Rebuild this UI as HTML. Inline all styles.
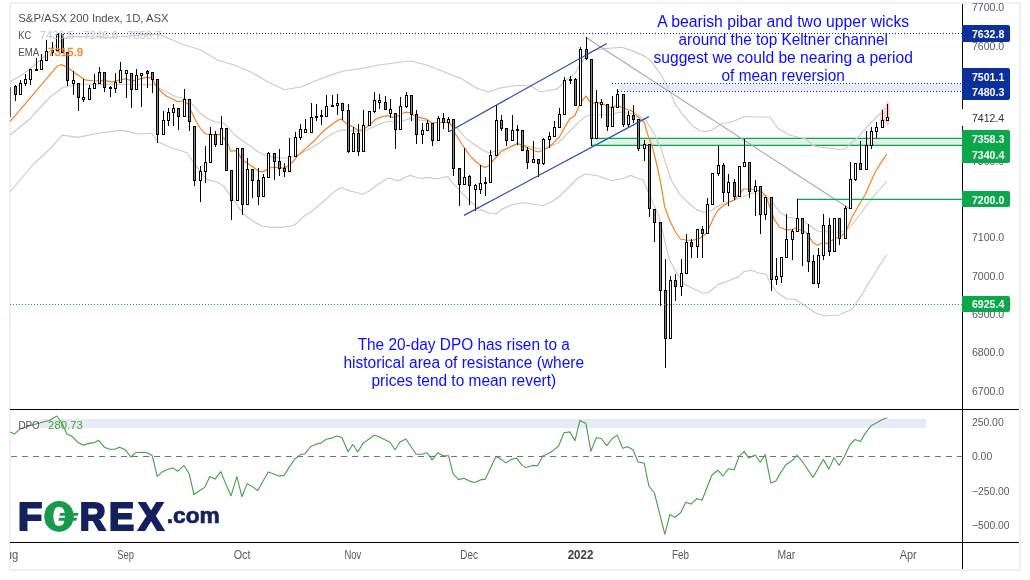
<!DOCTYPE html>
<html lang="en"><head><meta charset="utf-8"><title>S&amp;P/ASX 200 Index, 1D, ASX</title>
<style>html,body{margin:0;padding:0;background:#fff;overflow:hidden}svg{display:block;will-change:transform;opacity:0.9999}text{font-family:'Liberation Sans', Arial, sans-serif}</style>
</head><body>
<svg width="1030" height="580" viewBox="0 0 1030 580">
<rect x="0" y="0" width="1030" height="580" fill="#ffffff"/>
<rect x="10" y="3" width="1010" height="567" fill="none" stroke="#eef0f5" stroke-width="2"/>
<text x="971.9" y="10.8" font-size="11" fill="#555a64" text-anchor="start" font-weight="normal" textLength="32.3" lengthAdjust="spacingAndGlyphs" >7700.0</text>
<text x="971.9" y="49.9" font-size="11" fill="#555a64" text-anchor="start" font-weight="normal" textLength="32.3" lengthAdjust="spacingAndGlyphs" >7600.0</text>
<text x="971.9" y="164.8" font-size="11" fill="#555a64" text-anchor="start" font-weight="normal" textLength="32.3" lengthAdjust="spacingAndGlyphs" >7300.0</text>
<text x="971.9" y="241.2" font-size="11" fill="#555a64" text-anchor="start" font-weight="normal" textLength="32.3" lengthAdjust="spacingAndGlyphs" >7100.0</text>
<text x="971.9" y="279.8" font-size="11" fill="#555a64" text-anchor="start" font-weight="normal" textLength="32.3" lengthAdjust="spacingAndGlyphs" >7000.0</text>
<text x="971.9" y="318.1" font-size="11" fill="#555a64" text-anchor="start" font-weight="normal" textLength="32.3" lengthAdjust="spacingAndGlyphs" >6900.0</text>
<text x="971.9" y="355.7" font-size="11" fill="#555a64" text-anchor="start" font-weight="normal" textLength="32.3" lengthAdjust="spacingAndGlyphs" >6800.0</text>
<text x="971.9" y="394.5" font-size="11" fill="#555a64" text-anchor="start" font-weight="normal" textLength="32.3" lengthAdjust="spacingAndGlyphs" >6700.0</text>
<text x="971.9" y="426.09999999999997" font-size="11" fill="#555a64" text-anchor="start" font-weight="normal" textLength="31.8" lengthAdjust="spacingAndGlyphs" >250.00</text>
<text x="971.9" y="460.2" font-size="11" fill="#555a64" text-anchor="start" font-weight="normal" textLength="20.3" lengthAdjust="spacingAndGlyphs" >0.00</text>
<text x="971.9" y="494.9" font-size="11" fill="#555a64" text-anchor="start" font-weight="normal" textLength="37.6" lengthAdjust="spacingAndGlyphs" >−250.00</text>
<text x="971.9" y="528.9" font-size="11" fill="#555a64" text-anchor="start" font-weight="normal" textLength="37.6" lengthAdjust="spacingAndGlyphs" >−500.00</text>
<rect x="619" y="84" width="343" height="7" fill="#e9ebf6"/>
<rect x="40" y="419" width="886" height="9" fill="#e8eaf6"/>
<rect x="592" y="138" width="370" height="8" fill="#e0f2e5"/>
<line x1="592" y1="138.4" x2="962" y2="138.45" stroke="#0aa84a" stroke-width="1.25"/>
<line x1="592" y1="145.4" x2="962" y2="145.45" stroke="#0aa84a" stroke-width="1.25"/>
<polyline points="10.0,81.5 21.7,75.1 35.8,64.0 45.2,55.8 55.0,46.0 62.0,39.5 68.0,37.0 75.6,36.4 90.0,36.8 109.6,37.3 130.0,36.0 145.0,34.3 160.0,34.6 168.6,38.4 174.0,40.5 182.0,44.2 188.0,46.0 201.0,50.0 217.5,60.0 234.0,65.0 251.0,72.0 268.0,82.0 284.5,89.7 301.0,87.0 318.0,80.0 334.7,73.6 344.0,71.0 360.7,68.6 377.5,65.3 394.0,63.0 411.0,61.0 427.7,65.3 444.4,72.0 461.0,78.6 478.0,88.7 488.0,92.0 501.3,87.7 518.0,85.3 531.4,86.3 540.0,91.8 544.8,91.2 557.6,88.9 563.4,82.4 575.2,73.0 580.4,63.7 590.4,51.4 601.0,49.0 622.0,47.3 633.8,51.4 645.5,56.6 651.3,61.3 657.2,69.5 660.0,73.0 664.0,80.0 670.0,91.7 674.7,103.4 683.0,115.0 692.3,125.7 700.5,131.0 706.3,131.6 712.2,129.8 715.0,128.0 721.5,123.8 731.5,122.0 745.0,116.5 758.3,117.0 770.0,117.0 778.4,128.8 789.5,135.0 797.7,137.0 806.0,139.0 813.0,145.5 820.0,147.3 833.0,148.5 840.0,149.5 845.3,149.0 849.3,144.4 857.6,137.8 869.3,124.3 879.8,113.7 887.5,106.0" fill="none" stroke="#cbcbcb" stroke-width="1.15" stroke-linejoin="round" />
<polyline points="10.0,135.3 30.0,118.7 50.0,97.0 62.2,88.0 68.6,85.9 83.7,84.0 100.0,84.5 117.0,84.3 126.0,84.6 137.7,84.8 149.4,84.4 155.3,85.2 158.8,88.1 165.8,91.6 172.9,95.2 177.6,97.3 182.2,97.7 189.3,100.4 192.8,105.1 198.7,111.6 203.3,115.7 208.0,118.8 215.2,122.0 223.4,123.2 229.3,128.4 235.2,135.5 243.4,141.3 251.6,147.2 258.6,151.9 265.6,155.4 272.7,157.1 282.0,158.3 289.0,157.7 296.0,156.0 303.0,152.2 311.3,148.0 320.0,142.5 324.0,139.0 333.4,133.0 341.6,130.0 347.5,130.1 355.0,131.3 364.4,131.3 372.6,127.2 382.0,123.0 390.0,121.0 394.8,122.5 401.9,121.3 410.0,118.4 417.0,119.6 425.3,120.7 432.3,123.0 441.7,122.7 448.8,122.5 454.6,126.0 460.5,131.9 467.0,139.4 475.2,145.2 484.5,151.0 489.2,152.9 496.2,151.0 505.6,148.8 517.3,144.6 524.4,145.2 533.8,147.6 540.8,148.8 547.8,147.6 558.0,143.0 565.0,136.0 572.0,129.0 579.0,121.9 586.0,116.2 592.0,114.8 612.6,114.6 618.4,112.2 625.5,112.8 633.7,114.0 639.5,115.7 645.4,119.8 650.0,126.9 654.8,135.0 659.5,146.0 660.5,146.7 665.0,160.8 671.0,179.5 679.0,193.6 688.6,203.2 696.8,209.6 703.8,212.6 712.0,210.2 719.0,205.5 728.4,202.0 740.0,198.0 747.0,195.0 752.0,193.0 760.0,194.0 768.4,198.2 774.3,205.2 780.0,212.3 787.0,217.0 796.6,218.7 803.6,221.0 810.6,226.3 817.7,231.0 827.0,232.0 838.8,232.0 845.8,231.0 850.5,226.3 857.5,218.0 865.0,207.5 872.0,198.5 880.0,189.0 887.0,180.8" fill="none" stroke="#cbcbcb" stroke-width="1.15" stroke-linejoin="round" />
<polyline points="10.0,192.0 33.5,164.0 51.0,148.0 62.2,135.1 78.0,137.4 97.9,133.3 120.2,130.4 126.0,131.1 137.7,134.0 151.8,133.2 157.6,141.6 170.5,147.5 187.0,152.8 191.6,159.6 196.3,165.9 201.0,172.9 208.0,179.9 217.4,182.3 223.3,185.8 229.5,194.4 236.5,204.2 242.8,213.2 248.4,218.0 255.5,222.7 262.5,226.2 271.9,227.4 281.2,227.4 290.6,226.2 295.3,224.5 304.7,215.7 311.7,211.6 318.8,205.2 325.8,199.3 332.8,192.9 338.7,188.8 342.3,187.7 348.2,190.4 355.2,192.2 362.9,194.3 369.3,191.0 378.7,184.0 386.9,178.7 390.4,178.1 396.2,180.7 401.0,179.9 405.6,177.0 410.3,175.4 416.2,177.5 422.0,178.4 426.7,177.3 433.8,178.4 438.4,178.7 443.1,177.5 447.8,176.4 452.5,182.8 458.8,189.4 469.3,200.8 480.4,209.6 489.2,213.0 496.3,213.7 501.0,209.6 510.3,205.5 522.0,202.5 533.8,204.3 543.0,205.5 551.3,202.0 560.0,196.0 570.0,186.0 578.0,178.0 585.0,174.0 598.0,175.7 611.7,180.7 625.0,178.0 630.0,175.4 643.0,180.0 651.0,198.3 659.3,217.3 665.0,241.9 669.8,260.5 676.9,273.4 685.0,284.6 694.5,289.3 702.7,293.0 707.3,293.0 712.0,289.8 717.9,284.6 729.6,280.5 739.0,276.4 743.7,271.7 750.9,270.2 759.0,273.0 766.0,274.3 770.8,283.7 777.8,293.0 787.2,299.0 795.4,299.5 803.6,304.8 815.3,313.0 825.2,316.0 838.6,315.0 852.0,309.5 862.0,294.4 872.0,277.7 880.4,264.3 887.0,254.5" fill="none" stroke="#cbcbcb" stroke-width="1.15" stroke-linejoin="round" />
<line x1="585.7" y1="37.3" x2="850" y2="209" stroke="#a6a8b8" stroke-width="1.1"/>
<polyline points="10.0,121.6 30.0,98.2 45.2,80.4 56.9,66.3 61.6,64.6 67.4,67.5 75.6,73.4 85.0,79.8 94.4,81.0 103.8,80.4 112.0,81.8 120.2,79.8 126.0,78.7 131.9,81.1 140.0,78.8 146.0,77.3 151.2,77.6 155.3,84.6 160.0,90.5 165.8,95.7 172.9,99.3 177.6,101.6 183.4,101.0 188.0,104.0 191.6,112.0 196.3,121.7 201.0,129.3 205.7,134.0 212.7,134.6 219.8,134.4 224.4,138.7 228.4,144.9 230.8,151.2 235.0,150.6 237.3,151.0 242.0,159.6 247.9,163.4 253.7,167.5 258.4,171.0 262.5,171.9 266.6,169.9 271.3,167.5 277.0,167.3 283.0,168.1 287.7,166.4 292.4,162.3 298.3,155.2 306.5,147.6 315.2,140.0 317.0,137.7 325.2,129.5 332.2,124.3 338.0,120.2 341.6,119.2 346.3,123.7 349.8,125.4 353.3,127.0 358.0,130.6 364.4,129.0 370.2,124.3 376.0,119.0 382.0,116.6 389.0,115.7 393.7,117.6 397.2,116.6 401.9,113.7 405.4,112.2 410.0,112.5 413.6,115.2 418.3,117.2 426.5,119.2 432.3,123.1 437.0,122.3 444.0,122.3 448.8,122.5 452.3,126.6 455.2,133.5 460.0,141.0 464.6,148.2 470.5,156.4 475.2,161.0 480.4,165.2 485.0,167.5 489.2,165.2 492.7,161.0 496.3,157.0 501.0,151.7 506.8,148.8 512.7,145.5 517.3,143.5 522.0,144.6 526.7,147.6 532.6,150.0 537.9,152.0 542.0,150.5 547.8,147.6 552.5,144.0 557.2,138.8 559.0,137.7 565.0,126.6 569.7,119.0 575.0,115.4 579.0,106.0 582.6,100.2 586.0,95.9 589.6,101.4 593.0,103.0 597.8,102.6 602.5,103.6 607.9,107.3 612.6,107.2 617.3,105.2 622.0,107.5 626.6,109.3 632.5,111.4 637.2,116.3 644.2,122.2 647.7,134.5 652.3,146.7 657.0,165.5 660.5,181.9 664.6,206.7 669.8,220.8 675.7,232.5 680.4,239.0 686.2,240.0 692.0,240.5 700.3,238.0 706.2,233.7 709.7,226.6 714.4,216.0 717.9,210.2 723.8,205.5 728.4,202.4 734.3,200.0 739.6,193.6 743.7,189.0 750.9,189.0 756.7,190.0 762.6,192.6 766.0,196.0 769.6,206.4 774.3,219.3 780.0,227.5 786.0,229.8 791.9,229.8 795.4,228.0 800.0,229.8 806.0,232.2 809.5,236.9 813.0,242.7 817.7,245.3 822.3,242.7 827.0,243.7 831.7,240.4 836.4,238.0 841.0,236.3 844.6,233.4 848.0,226.3 852.8,215.8 858.7,205.2 865.0,195.0 869.9,184.0 875.1,172.3 881.0,162.6 886.9,154.1" fill="none" stroke="#f58220" stroke-width="1.2" stroke-linejoin="round" />
<line x1="797" y1="199.4" x2="962" y2="199.4" stroke="#0aa84a" stroke-width="1.2"/>
<ellipse cx="882.5" cy="118" rx="2.7" ry="10.5" fill="#fbd3d5"/>
<ellipse cx="887.5" cy="113" rx="2.7" ry="12.3" fill="#fbd3d5"/>
<g shape-rendering="crispEdges">
<rect x="10" y="87" width="1" height="30" fill="#5d5f6b"/>
<rect x="15" y="85" width="1" height="16" fill="#000"/>
<rect x="14" y="86" width="3" height="9" fill="#000"/>
<rect x="15" y="87" width="1" height="7" fill="#82858f"/>
<rect x="20" y="80" width="1" height="15" fill="#000"/>
<rect x="19" y="83" width="3" height="12" fill="#000"/>
<rect x="20" y="84" width="1" height="10" fill="#fff"/>
<rect x="25" y="74" width="1" height="12" fill="#000"/>
<rect x="24" y="79" width="3" height="5" fill="#000"/>
<rect x="25" y="80" width="1" height="3" fill="#fff"/>
<rect x="30" y="69" width="1" height="16" fill="#000"/>
<rect x="29" y="69" width="3" height="11" fill="#000"/>
<rect x="30" y="70" width="1" height="9" fill="#fff"/>
<rect x="36" y="58" width="1" height="13" fill="#000"/>
<rect x="35" y="69" width="3" height="2" fill="#000"/>
<rect x="41" y="54" width="1" height="16" fill="#000"/>
<rect x="40" y="60" width="3" height="10" fill="#000"/>
<rect x="41" y="61" width="1" height="8" fill="#fff"/>
<rect x="46" y="40" width="1" height="21" fill="#000"/>
<rect x="45" y="51" width="3" height="10" fill="#000"/>
<rect x="46" y="52" width="1" height="8" fill="#fff"/>
<rect x="52" y="42" width="1" height="14" fill="#000"/>
<rect x="51" y="50" width="3" height="3" fill="#000"/>
<rect x="52" y="51" width="1" height="1" fill="#82858f"/>
<rect x="56" y="34" width="3" height="17" fill="#000"/>
<rect x="57" y="35" width="1" height="15" fill="#fff"/>
<rect x="61" y="34" width="3" height="19" fill="#000"/>
<rect x="62" y="35" width="1" height="17" fill="#82858f"/>
<rect x="67" y="52" width="1" height="34" fill="#000"/>
<rect x="66" y="52" width="3" height="29" fill="#000"/>
<rect x="67" y="53" width="1" height="27" fill="#82858f"/>
<rect x="73" y="71" width="1" height="24" fill="#000"/>
<rect x="72" y="80" width="3" height="4" fill="#000"/>
<rect x="73" y="81" width="1" height="2" fill="#fff"/>
<rect x="78" y="83" width="1" height="28" fill="#000"/>
<rect x="77" y="83" width="3" height="15" fill="#000"/>
<rect x="78" y="84" width="1" height="13" fill="#82858f"/>
<rect x="83" y="79" width="1" height="23" fill="#000"/>
<rect x="82" y="97" width="3" height="3" fill="#000"/>
<rect x="83" y="98" width="1" height="1" fill="#fff"/>
<rect x="89" y="85" width="1" height="15" fill="#000"/>
<rect x="88" y="88" width="3" height="12" fill="#000"/>
<rect x="89" y="89" width="1" height="10" fill="#fff"/>
<rect x="94" y="74" width="1" height="15" fill="#000"/>
<rect x="93" y="83" width="3" height="6" fill="#000"/>
<rect x="94" y="84" width="1" height="4" fill="#fff"/>
<rect x="99" y="67" width="1" height="17" fill="#000"/>
<rect x="98" y="72" width="3" height="12" fill="#000"/>
<rect x="99" y="73" width="1" height="10" fill="#fff"/>
<rect x="104" y="72" width="1" height="20" fill="#000"/>
<rect x="103" y="72" width="3" height="16" fill="#000"/>
<rect x="104" y="73" width="1" height="14" fill="#82858f"/>
<rect x="110" y="86" width="1" height="11" fill="#000"/>
<rect x="109" y="87" width="3" height="2" fill="#000"/>
<rect x="115" y="73" width="1" height="20" fill="#000"/>
<rect x="114" y="82" width="3" height="7" fill="#000"/>
<rect x="115" y="83" width="1" height="5" fill="#fff"/>
<rect x="120" y="62" width="1" height="21" fill="#000"/>
<rect x="119" y="70" width="3" height="13" fill="#000"/>
<rect x="120" y="71" width="1" height="11" fill="#fff"/>
<rect x="126" y="70" width="1" height="28" fill="#000"/>
<rect x="125" y="70" width="3" height="4" fill="#000"/>
<rect x="126" y="71" width="1" height="2" fill="#fff"/>
<rect x="131" y="73" width="1" height="35" fill="#000"/>
<rect x="130" y="73" width="3" height="17" fill="#000"/>
<rect x="131" y="74" width="1" height="15" fill="#82858f"/>
<rect x="136" y="69" width="1" height="21" fill="#000"/>
<rect x="135" y="75" width="3" height="15" fill="#000"/>
<rect x="136" y="76" width="1" height="13" fill="#fff"/>
<rect x="141" y="73" width="1" height="34" fill="#000"/>
<rect x="140" y="73" width="3" height="3" fill="#000"/>
<rect x="141" y="74" width="1" height="1" fill="#fff"/>
<rect x="147" y="70" width="1" height="18" fill="#000"/>
<rect x="146" y="71" width="3" height="3" fill="#000"/>
<rect x="147" y="72" width="1" height="1" fill="#82858f"/>
<rect x="152" y="72" width="1" height="21" fill="#000"/>
<rect x="151" y="72" width="3" height="8" fill="#000"/>
<rect x="152" y="73" width="1" height="6" fill="#82858f"/>
<rect x="157" y="79" width="1" height="64" fill="#000"/>
<rect x="156" y="79" width="3" height="56" fill="#000"/>
<rect x="157" y="80" width="1" height="54" fill="#82858f"/>
<rect x="163" y="111" width="1" height="24" fill="#000"/>
<rect x="162" y="120" width="3" height="15" fill="#000"/>
<rect x="163" y="121" width="1" height="13" fill="#fff"/>
<rect x="168" y="108" width="1" height="18" fill="#000"/>
<rect x="167" y="112" width="3" height="9" fill="#000"/>
<rect x="168" y="113" width="1" height="7" fill="#fff"/>
<rect x="173" y="104" width="1" height="22" fill="#000"/>
<rect x="172" y="108" width="3" height="5" fill="#000"/>
<rect x="173" y="109" width="1" height="3" fill="#fff"/>
<rect x="178" y="108" width="1" height="22" fill="#000"/>
<rect x="177" y="108" width="3" height="9" fill="#000"/>
<rect x="178" y="109" width="1" height="7" fill="#82858f"/>
<rect x="184" y="89" width="1" height="28" fill="#000"/>
<rect x="183" y="99" width="3" height="18" fill="#000"/>
<rect x="184" y="100" width="1" height="16" fill="#fff"/>
<rect x="189" y="99" width="1" height="32" fill="#000"/>
<rect x="188" y="99" width="3" height="23" fill="#000"/>
<rect x="189" y="100" width="1" height="21" fill="#82858f"/>
<rect x="194" y="126" width="1" height="60" fill="#000"/>
<rect x="193" y="126" width="3" height="55" fill="#000"/>
<rect x="194" y="127" width="1" height="53" fill="#82858f"/>
<rect x="200" y="166" width="1" height="36" fill="#000"/>
<rect x="199" y="171" width="3" height="10" fill="#000"/>
<rect x="200" y="172" width="1" height="8" fill="#fff"/>
<rect x="205" y="146" width="1" height="37" fill="#000"/>
<rect x="204" y="162" width="3" height="10" fill="#000"/>
<rect x="205" y="163" width="1" height="8" fill="#fff"/>
<rect x="210" y="127" width="1" height="36" fill="#000"/>
<rect x="209" y="134" width="3" height="29" fill="#000"/>
<rect x="210" y="135" width="1" height="27" fill="#fff"/>
<rect x="215" y="131" width="1" height="16" fill="#000"/>
<rect x="214" y="134" width="3" height="11" fill="#000"/>
<rect x="215" y="135" width="1" height="9" fill="#82858f"/>
<rect x="221" y="116" width="1" height="29" fill="#000"/>
<rect x="220" y="128" width="3" height="17" fill="#000"/>
<rect x="221" y="129" width="1" height="15" fill="#fff"/>
<rect x="225" y="128" width="3" height="43" fill="#000"/>
<rect x="226" y="129" width="1" height="41" fill="#82858f"/>
<rect x="231" y="170" width="1" height="50" fill="#000"/>
<rect x="230" y="170" width="3" height="31" fill="#000"/>
<rect x="231" y="171" width="1" height="29" fill="#82858f"/>
<rect x="236" y="148" width="3" height="53" fill="#000"/>
<rect x="237" y="149" width="1" height="51" fill="#fff"/>
<rect x="242" y="148" width="1" height="67" fill="#000"/>
<rect x="241" y="148" width="3" height="57" fill="#000"/>
<rect x="242" y="149" width="1" height="55" fill="#82858f"/>
<rect x="247" y="158" width="1" height="47" fill="#000"/>
<rect x="246" y="169" width="3" height="36" fill="#000"/>
<rect x="247" y="170" width="1" height="34" fill="#fff"/>
<rect x="252" y="169" width="1" height="29" fill="#000"/>
<rect x="251" y="169" width="3" height="12" fill="#000"/>
<rect x="252" y="170" width="1" height="10" fill="#82858f"/>
<rect x="258" y="168" width="1" height="37" fill="#000"/>
<rect x="257" y="180" width="3" height="17" fill="#000"/>
<rect x="258" y="181" width="1" height="15" fill="#82858f"/>
<rect x="263" y="174" width="1" height="23" fill="#000"/>
<rect x="262" y="177" width="3" height="20" fill="#000"/>
<rect x="263" y="178" width="1" height="18" fill="#fff"/>
<rect x="268" y="152" width="1" height="26" fill="#000"/>
<rect x="267" y="153" width="3" height="25" fill="#000"/>
<rect x="268" y="154" width="1" height="23" fill="#fff"/>
<rect x="274" y="153" width="1" height="27" fill="#000"/>
<rect x="273" y="153" width="3" height="9" fill="#000"/>
<rect x="274" y="154" width="1" height="7" fill="#82858f"/>
<rect x="279" y="149" width="1" height="27" fill="#000"/>
<rect x="278" y="161" width="3" height="8" fill="#000"/>
<rect x="279" y="162" width="1" height="6" fill="#82858f"/>
<rect x="284" y="163" width="1" height="14" fill="#000"/>
<rect x="283" y="168" width="3" height="4" fill="#000"/>
<rect x="284" y="169" width="1" height="2" fill="#82858f"/>
<rect x="289" y="138" width="1" height="34" fill="#000"/>
<rect x="288" y="156" width="3" height="16" fill="#000"/>
<rect x="289" y="157" width="1" height="14" fill="#fff"/>
<rect x="295" y="132" width="1" height="25" fill="#000"/>
<rect x="294" y="137" width="3" height="20" fill="#000"/>
<rect x="295" y="138" width="1" height="18" fill="#fff"/>
<rect x="300" y="124" width="1" height="16" fill="#000"/>
<rect x="299" y="129" width="3" height="9" fill="#000"/>
<rect x="300" y="130" width="1" height="7" fill="#fff"/>
<rect x="305" y="119" width="1" height="14" fill="#000"/>
<rect x="304" y="129" width="3" height="4" fill="#000"/>
<rect x="305" y="130" width="1" height="2" fill="#fff"/>
<rect x="311" y="103" width="1" height="30" fill="#000"/>
<rect x="310" y="117" width="3" height="16" fill="#000"/>
<rect x="311" y="118" width="1" height="14" fill="#fff"/>
<rect x="316" y="104" width="1" height="17" fill="#000"/>
<rect x="315" y="116" width="3" height="2" fill="#000"/>
<rect x="321" y="110" width="1" height="15" fill="#000"/>
<rect x="320" y="115" width="3" height="2" fill="#000"/>
<rect x="326" y="95" width="1" height="22" fill="#000"/>
<rect x="325" y="106" width="3" height="11" fill="#000"/>
<rect x="326" y="107" width="1" height="9" fill="#fff"/>
<rect x="332" y="95" width="1" height="12" fill="#000"/>
<rect x="331" y="105" width="3" height="2" fill="#000"/>
<rect x="337" y="94" width="1" height="21" fill="#000"/>
<rect x="336" y="103" width="3" height="3" fill="#000"/>
<rect x="337" y="104" width="1" height="1" fill="#fff"/>
<rect x="342" y="103" width="1" height="17" fill="#000"/>
<rect x="341" y="103" width="3" height="8" fill="#000"/>
<rect x="342" y="104" width="1" height="6" fill="#82858f"/>
<rect x="348" y="104" width="1" height="49" fill="#000"/>
<rect x="347" y="110" width="3" height="42" fill="#000"/>
<rect x="348" y="111" width="1" height="40" fill="#82858f"/>
<rect x="353" y="127" width="1" height="25" fill="#000"/>
<rect x="352" y="133" width="3" height="19" fill="#000"/>
<rect x="353" y="134" width="1" height="17" fill="#fff"/>
<rect x="358" y="124" width="1" height="32" fill="#000"/>
<rect x="357" y="133" width="3" height="19" fill="#000"/>
<rect x="358" y="134" width="1" height="17" fill="#82858f"/>
<rect x="363" y="110" width="1" height="42" fill="#000"/>
<rect x="362" y="125" width="3" height="27" fill="#000"/>
<rect x="363" y="126" width="1" height="25" fill="#fff"/>
<rect x="368" y="111" width="3" height="15" fill="#000"/>
<rect x="369" y="112" width="1" height="13" fill="#fff"/>
<rect x="374" y="92" width="1" height="21" fill="#000"/>
<rect x="373" y="100" width="3" height="12" fill="#000"/>
<rect x="374" y="101" width="1" height="10" fill="#fff"/>
<rect x="379" y="94" width="1" height="15" fill="#000"/>
<rect x="378" y="100" width="3" height="3" fill="#000"/>
<rect x="379" y="101" width="1" height="1" fill="#fff"/>
<rect x="385" y="96" width="1" height="14" fill="#000"/>
<rect x="384" y="102" width="3" height="8" fill="#000"/>
<rect x="385" y="103" width="1" height="6" fill="#82858f"/>
<rect x="390" y="99" width="1" height="19" fill="#000"/>
<rect x="389" y="109" width="3" height="5" fill="#000"/>
<rect x="390" y="110" width="1" height="3" fill="#fff"/>
<rect x="395" y="113" width="1" height="36" fill="#000"/>
<rect x="394" y="113" width="3" height="17" fill="#000"/>
<rect x="395" y="114" width="1" height="15" fill="#82858f"/>
<rect x="400" y="97" width="1" height="33" fill="#000"/>
<rect x="399" y="106" width="3" height="24" fill="#000"/>
<rect x="400" y="107" width="1" height="22" fill="#fff"/>
<rect x="406" y="92" width="1" height="16" fill="#000"/>
<rect x="405" y="95" width="3" height="12" fill="#000"/>
<rect x="406" y="96" width="1" height="10" fill="#fff"/>
<rect x="411" y="95" width="1" height="26" fill="#000"/>
<rect x="410" y="95" width="3" height="20" fill="#000"/>
<rect x="411" y="96" width="1" height="18" fill="#82858f"/>
<rect x="416" y="110" width="1" height="34" fill="#000"/>
<rect x="415" y="114" width="3" height="21" fill="#000"/>
<rect x="416" y="115" width="1" height="19" fill="#82858f"/>
<rect x="422" y="123" width="1" height="21" fill="#000"/>
<rect x="421" y="130" width="3" height="5" fill="#000"/>
<rect x="422" y="131" width="1" height="3" fill="#fff"/>
<rect x="427" y="120" width="1" height="11" fill="#000"/>
<rect x="426" y="123" width="3" height="8" fill="#000"/>
<rect x="427" y="124" width="1" height="6" fill="#fff"/>
<rect x="432" y="123" width="1" height="23" fill="#000"/>
<rect x="431" y="123" width="3" height="18" fill="#000"/>
<rect x="432" y="124" width="1" height="16" fill="#82858f"/>
<rect x="438" y="116" width="1" height="25" fill="#000"/>
<rect x="437" y="118" width="3" height="23" fill="#000"/>
<rect x="438" y="119" width="1" height="21" fill="#fff"/>
<rect x="443" y="113" width="1" height="16" fill="#000"/>
<rect x="442" y="118" width="3" height="5" fill="#000"/>
<rect x="443" y="119" width="1" height="3" fill="#82858f"/>
<rect x="448" y="117" width="1" height="15" fill="#000"/>
<rect x="447" y="119" width="3" height="4" fill="#000"/>
<rect x="448" y="120" width="1" height="2" fill="#fff"/>
<rect x="453" y="119" width="1" height="57" fill="#000"/>
<rect x="452" y="119" width="3" height="50" fill="#000"/>
<rect x="453" y="120" width="1" height="48" fill="#82858f"/>
<rect x="459" y="168" width="1" height="38" fill="#000"/>
<rect x="458" y="168" width="3" height="17" fill="#000"/>
<rect x="459" y="169" width="1" height="15" fill="#82858f"/>
<rect x="464" y="148" width="1" height="37" fill="#000"/>
<rect x="463" y="177" width="3" height="8" fill="#000"/>
<rect x="464" y="178" width="1" height="6" fill="#fff"/>
<rect x="469" y="175" width="1" height="30" fill="#000"/>
<rect x="468" y="176" width="3" height="10" fill="#000"/>
<rect x="469" y="177" width="1" height="8" fill="#82858f"/>
<rect x="475" y="184" width="1" height="27" fill="#000"/>
<rect x="474" y="185" width="3" height="5" fill="#000"/>
<rect x="475" y="186" width="1" height="3" fill="#fff"/>
<rect x="480" y="165" width="1" height="29" fill="#000"/>
<rect x="479" y="183" width="3" height="7" fill="#000"/>
<rect x="480" y="184" width="1" height="5" fill="#fff"/>
<rect x="485" y="177" width="1" height="19" fill="#000"/>
<rect x="484" y="182" width="3" height="2" fill="#000"/>
<rect x="490" y="150" width="1" height="33" fill="#000"/>
<rect x="489" y="155" width="3" height="28" fill="#000"/>
<rect x="490" y="156" width="1" height="26" fill="#fff"/>
<rect x="496" y="105" width="1" height="51" fill="#000"/>
<rect x="495" y="120" width="3" height="36" fill="#000"/>
<rect x="496" y="121" width="1" height="34" fill="#fff"/>
<rect x="501" y="115" width="1" height="16" fill="#000"/>
<rect x="500" y="120" width="3" height="9" fill="#000"/>
<rect x="501" y="121" width="1" height="7" fill="#82858f"/>
<rect x="506" y="128" width="1" height="18" fill="#000"/>
<rect x="505" y="128" width="3" height="13" fill="#000"/>
<rect x="506" y="129" width="1" height="11" fill="#82858f"/>
<rect x="512" y="115" width="1" height="26" fill="#000"/>
<rect x="511" y="130" width="3" height="11" fill="#000"/>
<rect x="512" y="131" width="1" height="9" fill="#fff"/>
<rect x="517" y="125" width="1" height="20" fill="#000"/>
<rect x="516" y="129" width="3" height="2" fill="#000"/>
<rect x="521" y="130" width="3" height="21" fill="#000"/>
<rect x="522" y="131" width="1" height="19" fill="#82858f"/>
<rect x="527" y="147" width="1" height="22" fill="#000"/>
<rect x="526" y="150" width="3" height="13" fill="#000"/>
<rect x="527" y="151" width="1" height="11" fill="#82858f"/>
<rect x="533" y="141" width="1" height="22" fill="#000"/>
<rect x="532" y="159" width="3" height="4" fill="#000"/>
<rect x="533" y="160" width="1" height="2" fill="#fff"/>
<rect x="538" y="159" width="1" height="18" fill="#000"/>
<rect x="537" y="159" width="3" height="5" fill="#000"/>
<rect x="538" y="160" width="1" height="3" fill="#82858f"/>
<rect x="543" y="138" width="1" height="27" fill="#000"/>
<rect x="542" y="139" width="3" height="25" fill="#000"/>
<rect x="543" y="140" width="1" height="23" fill="#fff"/>
<rect x="549" y="132" width="1" height="16" fill="#000"/>
<rect x="548" y="136" width="3" height="4" fill="#000"/>
<rect x="549" y="137" width="1" height="2" fill="#fff"/>
<rect x="554" y="121" width="1" height="16" fill="#000"/>
<rect x="553" y="127" width="3" height="10" fill="#000"/>
<rect x="554" y="128" width="1" height="8" fill="#fff"/>
<rect x="559" y="108" width="1" height="20" fill="#000"/>
<rect x="558" y="114" width="3" height="14" fill="#000"/>
<rect x="559" y="115" width="1" height="12" fill="#fff"/>
<rect x="564" y="77" width="1" height="38" fill="#000"/>
<rect x="563" y="80" width="3" height="35" fill="#000"/>
<rect x="564" y="81" width="1" height="33" fill="#fff"/>
<rect x="570" y="76" width="1" height="8" fill="#000"/>
<rect x="569" y="79" width="3" height="2" fill="#000"/>
<rect x="575" y="78" width="1" height="28" fill="#000"/>
<rect x="574" y="79" width="3" height="27" fill="#000"/>
<rect x="575" y="80" width="1" height="25" fill="#82858f"/>
<rect x="580" y="47" width="1" height="59" fill="#000"/>
<rect x="579" y="49" width="3" height="57" fill="#000"/>
<rect x="580" y="50" width="1" height="55" fill="#fff"/>
<rect x="586" y="37" width="1" height="23" fill="#000"/>
<rect x="585" y="49" width="3" height="10" fill="#000"/>
<rect x="586" y="50" width="1" height="8" fill="#82858f"/>
<rect x="591" y="59" width="1" height="87" fill="#000"/>
<rect x="590" y="59" width="3" height="80" fill="#000"/>
<rect x="591" y="60" width="1" height="78" fill="#82858f"/>
<rect x="596" y="90" width="1" height="49" fill="#000"/>
<rect x="595" y="102" width="3" height="37" fill="#000"/>
<rect x="596" y="103" width="1" height="35" fill="#fff"/>
<rect x="601" y="99" width="1" height="19" fill="#000"/>
<rect x="600" y="102" width="3" height="3" fill="#000"/>
<rect x="601" y="103" width="1" height="1" fill="#fff"/>
<rect x="607" y="104" width="1" height="27" fill="#000"/>
<rect x="606" y="104" width="3" height="23" fill="#000"/>
<rect x="607" y="105" width="1" height="21" fill="#82858f"/>
<rect x="612" y="96" width="1" height="31" fill="#000"/>
<rect x="611" y="107" width="3" height="20" fill="#000"/>
<rect x="612" y="108" width="1" height="18" fill="#fff"/>
<rect x="617" y="89" width="1" height="19" fill="#000"/>
<rect x="616" y="94" width="3" height="14" fill="#000"/>
<rect x="617" y="95" width="1" height="12" fill="#fff"/>
<rect x="623" y="94" width="1" height="33" fill="#000"/>
<rect x="622" y="94" width="3" height="31" fill="#000"/>
<rect x="623" y="95" width="1" height="29" fill="#82858f"/>
<rect x="628" y="111" width="1" height="16" fill="#000"/>
<rect x="627" y="115" width="3" height="10" fill="#000"/>
<rect x="628" y="116" width="1" height="8" fill="#fff"/>
<rect x="633" y="105" width="1" height="18" fill="#000"/>
<rect x="632" y="115" width="3" height="5" fill="#000"/>
<rect x="633" y="116" width="1" height="3" fill="#82858f"/>
<rect x="638" y="119" width="1" height="32" fill="#000"/>
<rect x="637" y="119" width="3" height="30" fill="#000"/>
<rect x="638" y="120" width="1" height="28" fill="#82858f"/>
<rect x="644" y="140" width="1" height="21" fill="#000"/>
<rect x="643" y="144" width="3" height="5" fill="#000"/>
<rect x="644" y="145" width="1" height="3" fill="#fff"/>
<rect x="649" y="144" width="1" height="73" fill="#000"/>
<rect x="648" y="144" width="3" height="65" fill="#000"/>
<rect x="649" y="145" width="1" height="63" fill="#82858f"/>
<rect x="654" y="209" width="1" height="33" fill="#000"/>
<rect x="653" y="209" width="3" height="14" fill="#000"/>
<rect x="654" y="210" width="1" height="12" fill="#82858f"/>
<rect x="660" y="222" width="1" height="84" fill="#000"/>
<rect x="659" y="222" width="3" height="69" fill="#000"/>
<rect x="660" y="223" width="1" height="67" fill="#82858f"/>
<rect x="665" y="259" width="1" height="109" fill="#000"/>
<rect x="664" y="290" width="3" height="49" fill="#000"/>
<rect x="665" y="291" width="1" height="47" fill="#82858f"/>
<rect x="670" y="276" width="1" height="63" fill="#000"/>
<rect x="669" y="280" width="3" height="59" fill="#000"/>
<rect x="670" y="281" width="1" height="57" fill="#fff"/>
<rect x="675" y="274" width="1" height="27" fill="#000"/>
<rect x="674" y="280" width="3" height="7" fill="#000"/>
<rect x="675" y="281" width="1" height="5" fill="#82858f"/>
<rect x="681" y="259" width="1" height="37" fill="#000"/>
<rect x="680" y="273" width="3" height="14" fill="#000"/>
<rect x="681" y="274" width="1" height="12" fill="#fff"/>
<rect x="686" y="234" width="1" height="40" fill="#000"/>
<rect x="685" y="242" width="3" height="32" fill="#000"/>
<rect x="686" y="243" width="1" height="30" fill="#fff"/>
<rect x="691" y="239" width="1" height="19" fill="#000"/>
<rect x="690" y="242" width="3" height="5" fill="#000"/>
<rect x="691" y="243" width="1" height="3" fill="#82858f"/>
<rect x="697" y="229" width="1" height="29" fill="#000"/>
<rect x="696" y="229" width="3" height="18" fill="#000"/>
<rect x="697" y="230" width="1" height="16" fill="#fff"/>
<rect x="702" y="226" width="1" height="32" fill="#000"/>
<rect x="701" y="229" width="3" height="5" fill="#000"/>
<rect x="702" y="230" width="1" height="3" fill="#82858f"/>
<rect x="707" y="198" width="1" height="36" fill="#000"/>
<rect x="706" y="204" width="3" height="30" fill="#000"/>
<rect x="707" y="205" width="1" height="28" fill="#fff"/>
<rect x="711" y="173" width="3" height="32" fill="#000"/>
<rect x="712" y="174" width="1" height="30" fill="#fff"/>
<rect x="718" y="146" width="1" height="30" fill="#000"/>
<rect x="717" y="165" width="3" height="9" fill="#000"/>
<rect x="718" y="166" width="1" height="7" fill="#fff"/>
<rect x="723" y="163" width="1" height="39" fill="#000"/>
<rect x="722" y="165" width="3" height="28" fill="#000"/>
<rect x="723" y="166" width="1" height="26" fill="#82858f"/>
<rect x="728" y="174" width="1" height="32" fill="#000"/>
<rect x="727" y="182" width="3" height="11" fill="#000"/>
<rect x="728" y="183" width="1" height="9" fill="#fff"/>
<rect x="734" y="179" width="1" height="21" fill="#000"/>
<rect x="733" y="182" width="3" height="15" fill="#000"/>
<rect x="734" y="183" width="1" height="13" fill="#82858f"/>
<rect x="738" y="166" width="3" height="31" fill="#000"/>
<rect x="739" y="167" width="1" height="29" fill="#fff"/>
<rect x="744" y="139" width="1" height="28" fill="#000"/>
<rect x="743" y="162" width="3" height="5" fill="#000"/>
<rect x="744" y="163" width="1" height="3" fill="#fff"/>
<rect x="749" y="162" width="1" height="36" fill="#000"/>
<rect x="748" y="162" width="3" height="30" fill="#000"/>
<rect x="749" y="163" width="1" height="28" fill="#82858f"/>
<rect x="755" y="180" width="1" height="36" fill="#000"/>
<rect x="754" y="186" width="3" height="6" fill="#000"/>
<rect x="755" y="187" width="1" height="4" fill="#fff"/>
<rect x="760" y="186" width="1" height="48" fill="#000"/>
<rect x="759" y="186" width="3" height="29" fill="#000"/>
<rect x="760" y="187" width="1" height="27" fill="#82858f"/>
<rect x="765" y="197" width="1" height="23" fill="#000"/>
<rect x="764" y="197" width="3" height="18" fill="#000"/>
<rect x="765" y="198" width="1" height="16" fill="#fff"/>
<rect x="771" y="197" width="1" height="94" fill="#000"/>
<rect x="770" y="197" width="3" height="83" fill="#000"/>
<rect x="771" y="198" width="1" height="81" fill="#82858f"/>
<rect x="776" y="258" width="1" height="27" fill="#000"/>
<rect x="775" y="276" width="3" height="4" fill="#000"/>
<rect x="776" y="277" width="1" height="2" fill="#fff"/>
<rect x="781" y="257" width="1" height="26" fill="#000"/>
<rect x="780" y="257" width="3" height="20" fill="#000"/>
<rect x="781" y="258" width="1" height="18" fill="#fff"/>
<rect x="786" y="214" width="1" height="44" fill="#000"/>
<rect x="785" y="239" width="3" height="19" fill="#000"/>
<rect x="786" y="240" width="1" height="17" fill="#fff"/>
<rect x="792" y="229" width="1" height="31" fill="#000"/>
<rect x="791" y="231" width="3" height="9" fill="#000"/>
<rect x="792" y="232" width="1" height="7" fill="#fff"/>
<rect x="797" y="199" width="1" height="33" fill="#000"/>
<rect x="796" y="218" width="3" height="14" fill="#000"/>
<rect x="797" y="219" width="1" height="12" fill="#fff"/>
<rect x="802" y="218" width="1" height="48" fill="#000"/>
<rect x="801" y="218" width="3" height="16" fill="#000"/>
<rect x="802" y="219" width="1" height="14" fill="#82858f"/>
<rect x="808" y="224" width="1" height="48" fill="#000"/>
<rect x="807" y="233" width="3" height="29" fill="#000"/>
<rect x="808" y="234" width="1" height="27" fill="#82858f"/>
<rect x="813" y="255" width="1" height="29" fill="#000"/>
<rect x="812" y="261" width="3" height="23" fill="#000"/>
<rect x="813" y="262" width="1" height="21" fill="#82858f"/>
<rect x="818" y="248" width="1" height="40" fill="#000"/>
<rect x="817" y="255" width="3" height="29" fill="#000"/>
<rect x="818" y="256" width="1" height="27" fill="#fff"/>
<rect x="823" y="214" width="1" height="46" fill="#000"/>
<rect x="822" y="225" width="3" height="31" fill="#000"/>
<rect x="823" y="226" width="1" height="29" fill="#fff"/>
<rect x="829" y="218" width="1" height="38" fill="#000"/>
<rect x="828" y="225" width="3" height="27" fill="#000"/>
<rect x="829" y="226" width="1" height="25" fill="#82858f"/>
<rect x="833" y="218" width="3" height="34" fill="#000"/>
<rect x="834" y="219" width="1" height="32" fill="#fff"/>
<rect x="839" y="218" width="1" height="27" fill="#000"/>
<rect x="838" y="218" width="3" height="21" fill="#000"/>
<rect x="839" y="219" width="1" height="19" fill="#82858f"/>
<rect x="845" y="206" width="1" height="33" fill="#000"/>
<rect x="844" y="208" width="3" height="31" fill="#000"/>
<rect x="845" y="209" width="1" height="29" fill="#fff"/>
<rect x="850" y="162" width="1" height="47" fill="#000"/>
<rect x="849" y="179" width="3" height="30" fill="#000"/>
<rect x="850" y="180" width="1" height="28" fill="#fff"/>
<rect x="855" y="163" width="1" height="18" fill="#000"/>
<rect x="854" y="163" width="3" height="17" fill="#000"/>
<rect x="855" y="164" width="1" height="15" fill="#fff"/>
<rect x="860" y="141" width="1" height="29" fill="#000"/>
<rect x="859" y="163" width="3" height="7" fill="#000"/>
<rect x="860" y="164" width="1" height="5" fill="#82858f"/>
<rect x="866" y="131" width="1" height="39" fill="#000"/>
<rect x="865" y="145" width="3" height="25" fill="#000"/>
<rect x="866" y="146" width="1" height="23" fill="#fff"/>
<rect x="871" y="127" width="1" height="22" fill="#000"/>
<rect x="870" y="131" width="3" height="15" fill="#000"/>
<rect x="871" y="132" width="1" height="13" fill="#fff"/>
<rect x="876" y="122" width="1" height="16" fill="#000"/>
<rect x="875" y="127" width="3" height="5" fill="#000"/>
<rect x="876" y="128" width="1" height="3" fill="#fff"/>
<rect x="882" y="110" width="1" height="18" fill="#000"/>
<rect x="881" y="120" width="3" height="8" fill="#000"/>
<rect x="882" y="121" width="1" height="6" fill="#fff"/>
<rect x="887" y="104" width="1" height="17" fill="#000"/>
<rect x="886" y="117" width="3" height="4" fill="#000"/>
<rect x="887" y="118" width="1" height="2" fill="#fff"/>
</g>
<line x1="448.4" y1="131.9" x2="606.8" y2="43.5" stroke="#2a4fb0" stroke-width="1.2"/>
<line x1="464" y1="215.4" x2="648.9" y2="116.6" stroke="#2a4fb0" stroke-width="1.2"/>
<line x1="58" y1="33.5" x2="962" y2="33.5" stroke="#0b2f9b" stroke-width="1" stroke-dasharray="1 2"/>
<line x1="612" y1="83.5" x2="962" y2="83.5" stroke="#0b2f9b" stroke-width="1" stroke-dasharray="1 2"/>
<line x1="618" y1="91.5" x2="962" y2="91.5" stroke="#0b2f9b" stroke-width="1" stroke-dasharray="1 2"/>
<line x1="10" y1="304.5" x2="962" y2="304.5" stroke="#0aa84a" stroke-width="1" stroke-dasharray="1 2"/>
<line x1="11" y1="456.5" x2="962" y2="456.5" stroke="#6f7280" stroke-width="1" stroke-dasharray="6 5"/>
<polyline points="10.0,431.9 14.7,433.9 20.0,428.9 26.7,426.7 39.3,423.0 49.3,420.5 56.8,416.0 61.9,423.0 66.9,433.9 72.7,436.8 77.8,442.3 82.8,445.1 90.3,443.1 94.5,442.6 98.7,440.3 104.5,447.3 109.5,449.3 114.6,449.3 119.6,447.3 125.4,449.8 130.8,457.0 135.5,452.7 142.2,452.3 147.2,452.7 152.2,455.7 157.2,476.3 162.2,471.9 167.3,469.6 172.6,467.9 177.8,471.2 182.0,467.4 184.0,465.7 189.0,473.2 194.0,494.5 199.6,490.8 204.9,487.1 209.9,476.6 215.0,479.1 220.8,471.6 225.8,484.1 231.0,495.8 236.9,476.6 241.9,496.7 247.2,483.6 252.3,486.6 257.8,490.5 263.1,481.1 268.2,472.1 273.7,474.1 279.0,476.1 284.1,475.4 289.1,467.4 294.9,459.0 300.0,454.8 305.0,453.7 310.8,446.5 315.8,444.3 320.9,443.1 326.2,439.3 331.7,438.1 337.1,436.1 342.1,437.8 348.0,451.8 352.7,444.5 354.0,446.0 357.7,452.0 363.2,443.1 368.7,439.3 374.1,435.3 379.1,436.8 384.4,439.5 390.0,442.3 395.0,449.8 400.0,442.0 405.9,439.0 410.9,446.5 416.2,454.3 421.8,454.3 427.1,452.8 432.1,459.9 437.7,452.8 443.0,455.7 448.5,455.7 453.0,473.6 458.6,479.6 463.9,478.3 469.4,481.1 474.8,482.5 480.3,479.9 485.3,479.1 490.4,468.2 495.9,456.5 500.4,458.7 505.9,462.9 511.3,459.4 516.6,458.2 521.8,464.9 526.0,467.6 532.7,465.4 537.7,465.7 542.7,456.0 548.6,453.5 553.6,450.2 558.6,446.0 564.0,432.8 569.8,431.9 575.0,440.6 579.9,420.5 585.9,423.4 590.9,451.2 596.3,437.8 601.0,438.5 606.8,445.6 611.8,439.0 617.2,435.1 622.7,448.2 627.7,446.8 633.0,449.8 638.1,462.0 644.2,463.2 648.9,486.0 654.4,493.0 664.8,534.2 669.9,514.4 674.9,517.3 680.6,512.8 685.8,502.2 691.1,504.1 697.0,498.5 702.0,500.2 711.7,475.5 717.9,470.1 722.9,476.0 728.4,468.8 734.1,469.8 739.1,456.4 744.1,451.4 748.8,458.0 755.2,455.0 760.2,462.2 765.2,454.7 770.9,483.1 775.9,481.0 780.3,473.4 785.9,464.8 791.8,460.8 797.1,455.3 801.8,460.7 813.0,477.4 823.2,459.4 828.9,469.1 833.9,457.7 839.1,465.2 844.4,456.5 849.9,444.8 855.0,439.5 860.3,441.5 865.3,433.4 870.8,426.1 876.2,423.1 881.7,419.7 886.7,418.0" fill="none" stroke="#43a047" stroke-width="1.1" stroke-linejoin="round" />
<g shape-rendering="crispEdges" fill="#000">
<rect x="962" y="4" width="1" height="565"/>
<rect x="10" y="409" width="1009" height="1"/>
<rect x="10" y="542" width="1009" height="1"/>
</g>
<rect x="962" y="109" width="48" height="17" fill="#fff"/>
<text x="971.9" y="121.8" font-size="11" fill="#333" text-anchor="start" font-weight="normal" textLength="32.3" lengthAdjust="spacingAndGlyphs" >7412.4</text>
<path d="M962 25H1008a2 2 0 0 1 2 2V40a2 2 0 0 1 -2 2H962Z" fill="#0b2f9b"/>
<text x="971.9" y="38.0" font-size="11" fill="#fff" text-anchor="start" font-weight="bold" textLength="32.4" lengthAdjust="spacingAndGlyphs" >7632.8</text>
<path d="M962 68H1008a2 2 0 0 1 2 2V98a2 2 0 0 1 -2 2H962Z" fill="#0b2f9b"/>
<text x="971.9" y="80.8" font-size="11" fill="#fff" text-anchor="start" font-weight="bold" textLength="32.4" lengthAdjust="spacingAndGlyphs" >7501.1</text>
<text x="971.9" y="95.8" font-size="11" fill="#fff" text-anchor="start" font-weight="bold" textLength="32.4" lengthAdjust="spacingAndGlyphs" >7480.3</text>
<path d="M962 130H1008a2 2 0 0 1 2 2V161a2 2 0 0 1 -2 2H962Z" fill="#0aa84a"/>
<text x="971.9" y="142.5" font-size="11" fill="#fff" text-anchor="start" font-weight="bold" textLength="32.4" lengthAdjust="spacingAndGlyphs" >7358.3</text>
<text x="971.9" y="158.8" font-size="11" fill="#fff" text-anchor="start" font-weight="bold" textLength="32.4" lengthAdjust="spacingAndGlyphs" >7340.4</text>
<path d="M962 191H1008a2 2 0 0 1 2 2V205a2 2 0 0 1 -2 2H962Z" fill="#0aa84a"/>
<text x="971.9" y="203.9" font-size="11" fill="#fff" text-anchor="start" font-weight="bold" textLength="32.4" lengthAdjust="spacingAndGlyphs" >7200.0</text>
<path d="M962 296H1008a2 2 0 0 1 2 2V310a2 2 0 0 1 -2 2H962Z" fill="#0aa84a"/>
<text x="971.9" y="308.3" font-size="11" fill="#fff" text-anchor="start" font-weight="bold" textLength="32.4" lengthAdjust="spacingAndGlyphs" >6925.4</text>
<text x="18.3" y="21.8" font-size="11.6" fill="#4f4f4f" text-anchor="start" font-weight="normal" textLength="150.3" lengthAdjust="spacingAndGlyphs" >S&amp;P/ASX 200 Index, 1D, ASX</text>
<text x="18.3" y="38.7" font-size="11.6" fill="#4f4f4f" text-anchor="start" font-weight="normal" textLength="13" lengthAdjust="spacingAndGlyphs" >KC</text>
<text x="39.7" y="38.7" font-size="11.6" fill="#c6c6c6" text-anchor="start" font-weight="normal" textLength="34.4" lengthAdjust="spacingAndGlyphs" >7436.5</text>
<text x="83.6" y="38.7" font-size="11.6" fill="#c6c6c6" text-anchor="start" font-weight="normal" textLength="34.4" lengthAdjust="spacingAndGlyphs" >7246.6</text>
<text x="126.9" y="38.7" font-size="11.6" fill="#c6c6c6" text-anchor="start" font-weight="normal" textLength="34.4" lengthAdjust="spacingAndGlyphs" >7056.7</text>
<text x="18.3" y="55.8" font-size="11.6" fill="#4f4f4f" text-anchor="start" font-weight="normal" textLength="20.9" lengthAdjust="spacingAndGlyphs" >EMA</text>
<text x="48.1" y="55.8" font-size="11.6" fill="#f58220" text-anchor="start" font-weight="normal" textLength="35" lengthAdjust="spacingAndGlyphs" stroke="#f58220" stroke-width="0.35">7315.9</text>
<text x="18.4" y="429" font-size="11.6" fill="#4f4f4f" text-anchor="start" font-weight="normal" textLength="21.4" lengthAdjust="spacingAndGlyphs" >DPO</text>
<text x="48.1" y="429" font-size="11.6" fill="#43a047" text-anchor="start" font-weight="normal" textLength="34.7" lengthAdjust="spacingAndGlyphs" >280.73</text>
<text x="783.2" y="26.6" font-size="16" fill="#0c0cff" text-anchor="middle" font-weight="normal" textLength="252.1" lengthAdjust="spacingAndGlyphs" >A bearish pibar and two upper wicks</text>
<text x="783.2" y="44.6" font-size="16" fill="#0c0cff" text-anchor="middle" font-weight="normal" textLength="209.3" lengthAdjust="spacingAndGlyphs" >around the top Keltner channel</text>
<text x="783.2" y="62.6" font-size="16" fill="#0c0cff" text-anchor="middle" font-weight="normal" textLength="259.4" lengthAdjust="spacingAndGlyphs" >suggest we could be nearing a period</text>
<text x="783.2" y="80.6" font-size="16" fill="#0c0cff" text-anchor="middle" font-weight="normal" textLength="123.4" lengthAdjust="spacingAndGlyphs" >of mean reversion</text>
<text x="463.8" y="349.9" font-size="16" fill="#0c0cff" text-anchor="middle" font-weight="normal" textLength="212.3" lengthAdjust="spacingAndGlyphs" >The 20-day DPO has risen to a</text>
<text x="463.8" y="367.9" font-size="16" fill="#0c0cff" text-anchor="middle" font-weight="normal" textLength="240.7" lengthAdjust="spacingAndGlyphs" >historical area of resistance (where</text>
<text x="463.8" y="385.9" font-size="16" fill="#0c0cff" text-anchor="middle" font-weight="normal" textLength="184.6" lengthAdjust="spacingAndGlyphs" >prices tend to mean revert)</text>
<text x="125.7" y="558.5" font-size="12" fill="#555a64" text-anchor="middle" font-weight="normal" textLength="16.8" lengthAdjust="spacingAndGlyphs" >Sep</text>
<text x="242.1" y="558.5" font-size="12" fill="#555a64" text-anchor="middle" font-weight="normal" textLength="16.8" lengthAdjust="spacingAndGlyphs" >Oct</text>
<text x="352.9" y="558.5" font-size="12" fill="#555a64" text-anchor="middle" font-weight="normal" textLength="16.8" lengthAdjust="spacingAndGlyphs" >Nov</text>
<text x="469.1" y="558.5" font-size="12" fill="#555a64" text-anchor="middle" font-weight="normal" textLength="17.5" lengthAdjust="spacingAndGlyphs" >Dec</text>
<text x="580.5" y="558.5" font-size="12" fill="#3a3d45" text-anchor="middle" font-weight="bold" textLength="25.7" lengthAdjust="spacingAndGlyphs" >2022</text>
<text x="680.5" y="558.5" font-size="12" fill="#555a64" text-anchor="middle" font-weight="normal" textLength="17" lengthAdjust="spacingAndGlyphs" >Feb</text>
<text x="786.4" y="558.5" font-size="12" fill="#555a64" text-anchor="middle" font-weight="normal" textLength="17.9" lengthAdjust="spacingAndGlyphs" >Mar</text>
<text x="908.2" y="558.5" font-size="12" fill="#555a64" text-anchor="middle" font-weight="normal" textLength="17" lengthAdjust="spacingAndGlyphs" >Apr</text>
<clipPath id="cl"><rect x="10" y="543" width="40" height="26"/></clipPath>
<text x="18.2" y="558.5" font-size="12" fill="#555a64" text-anchor="end" font-weight="normal" textLength="20" lengthAdjust="spacingAndGlyphs" clip-path="url(#cl)">Aug</text>
<text font-weight="bold"><tspan x="18.07" y="529.8" font-size="38.4" fill="#14215e" stroke="#14215e" stroke-width="2.2" textLength="24.21" lengthAdjust="spacingAndGlyphs">F</tspan><tspan x="43.04" y="531.0" font-size="43.4" fill="#169b4d" stroke="#169b4d" stroke-width="0.4" textLength="31.78" lengthAdjust="spacingAndGlyphs">O</tspan><tspan x="79.78" y="529.8" font-size="38.4" fill="#14215e" stroke="#14215e" stroke-width="2.2" textLength="25.88" lengthAdjust="spacingAndGlyphs">R</tspan><tspan x="108.92" y="529.8" font-size="38.4" fill="#14215e" stroke="#14215e" stroke-width="2.2" textLength="25.08" lengthAdjust="spacingAndGlyphs">E</tspan><tspan x="138.39" y="529.8" font-size="38.4" fill="#14215e" stroke="#14215e" stroke-width="2.2" textLength="25.08" lengthAdjust="spacingAndGlyphs">X</tspan><tspan x="166.73" y="522.6" font-size="22" fill="#14215e" stroke="#14215e" stroke-width="0.7" textLength="53.07" lengthAdjust="spacingAndGlyphs">.com</tspan></text>
<path fill-rule="evenodd" fill="#169b4d" d="M44.6 516.35a14.55 15.35 0 1 0 29.1 0a14.55 15.35 0 1 0 -29.1 0ZM53.3 516.35a5.85 10.65 0 1 0 11.7 0a5.85 10.65 0 1 0 -11.7 0Z"/>
<path d="M60 512.9H78.5L77.7 515.8H59.4ZM59 517.8H77.1L76.3 520.7H58.4Z" fill="#169b4d"/>
</svg></body></html>
